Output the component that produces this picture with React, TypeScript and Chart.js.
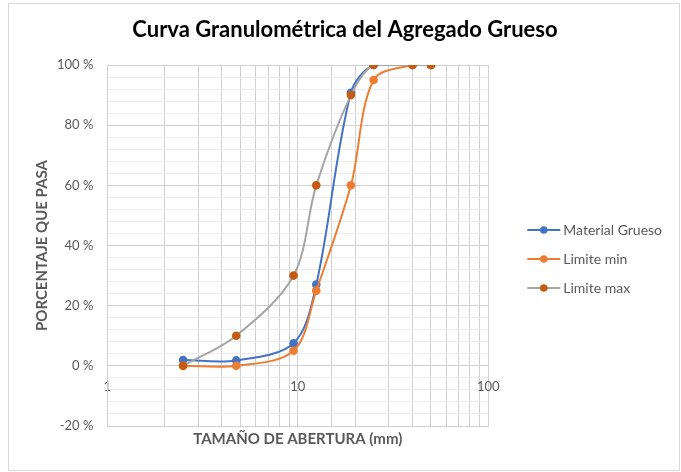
import React, { useEffect, useRef } from "react";
import { Chart, registerables } from "chart.js";

Chart.register(...registerables);

const sizes = [2.5, 4.75, 9.5, 12.5, 19, 25, 40, 50];
const materialGrueso = [1.9, 1.8, 7.5, 27, 90.8, 100, 100, 100];
const limiteMin = [0, 0, 5, 25, 60, 95, 100, 100];
const limiteMax = [0, 10, 30, 60, 90, 100, 100, 100];
const seriesNames = ["Material Grueso", "Limite min", "Limite max"];
const xLabelTicks = [1, 10, 100];
const chartTitle = "Curva Granulométrica del Agregado Grueso";

const FONT = "Lato";
const TEXT = "#595959";
const GRID_MAJOR = "#d0d0d0";
const GRID_MINOR = "#ececec";

const legendColors = [
  { line: "#4472C4", point: "#4472C4" },
  { line: "#ED7D31", point: "#ED7D31" },
  { line: "#A5A5A5", point: "#C55A11" },
];

const decorations = {
  id: "decorations",
  afterDraw(chart: any) {
    const { ctx, chartArea } = chart;
    ctx.save();
    // title
    ctx.fillStyle = "#000000";
    ctx.font = `bold 22px ${FONT}`;
    ctx.textAlign = "center";
    ctx.textBaseline = "middle";
    ctx.fillText(chartTitle, chart.width / 2 + 1, 26);
    // legend
    const x0 = chartArea.right + 39;
    const x1 = chartArea.right + 72;
    const baseY = chartArea.top + 165;
    seriesNames.forEach((name, i) => {
      const y = baseY + i * 29;
      ctx.strokeStyle = legendColors[i].line;
      ctx.lineWidth = 2;
      ctx.beginPath();
      ctx.moveTo(x0, y);
      ctx.lineTo(x1, y);
      ctx.stroke();
      ctx.fillStyle = legendColors[i].point;
      ctx.beginPath();
      ctx.arc((x0 + x1) / 2, y, 3.8, 0, Math.PI * 2);
      ctx.fill();
      ctx.fillStyle = TEXT;
      ctx.font = `14px ${FONT}`;
      ctx.textBaseline = "middle";
      ctx.textAlign = "left";
      ctx.fillText(name, x1 + 3, y);
    });
    ctx.restore();
  },
};

function toPoints(vals: number[]) {
  return sizes.map((s, i) => ({ x: s, y: vals[i] }));
}

export default function App() {
  const ref = useRef<HTMLCanvasElement | null>(null);
  useEffect(() => {
    if (!ref.current) return;
    const mk = (label: string, data: number[], line: string, point: string, order: number) => ({
      label,
      data: toPoints(data),
      borderColor: line,
      backgroundColor: point,
      pointBackgroundColor: point,
      pointBorderColor: point,
      pointRadius: 4.3,
      pointBorderWidth: 0,
      borderWidth: 2,
      tension: 0.33,
      order,
      xAxisID: "x",
      yAxisID: "y",
    });
    const chart = new Chart(ref.current, {
      type: "line",
      data: {
        datasets: [
          mk(seriesNames[0], materialGrueso, "#4472C4", "#4472C4", 2),
          mk(seriesNames[1], limiteMin, "#ED7D31", "#ED7D31", 1),
          mk(seriesNames[2], limiteMax, "#A5A5A5", "#C55A11", 0),
        ],
      },
      options: {
        animation: false,
        responsive: false,
        maintainAspectRatio: false,
        layout: { padding: { left: 0, right: 190.7, top: 61, bottom: 0 } },
        plugins: {
          legend: { display: false },
          tooltip: { enabled: false },
          title: { display: false },
        },
        scales: {
          x: {
            type: "logarithmic",
            position: "bottom",
            min: 1,
            max: 100,
            grid: { color: GRID_MAJOR, drawTicks: false },
            border: { display: true, color: GRID_MAJOR },
            ticks: { display: false },
            title: {
              display: true,
              text: "TAMAÑO DE ABERTURA (mm)",
              color: TEXT,
              font: { family: FONT, size: 15, weight: "bold" },
              padding: { top: 0, bottom: 22 },
            },
            afterFit(scale: any) {
              scale.height = 44;
            },
          },
          x2: {
            type: "logarithmic",
            position: { y: 0 } as any,
            min: 1,
            max: 100,
            grid: { display: false, drawTicks: false },
            border: { display: false },
            ticks: {
              autoSkip: false,
              maxRotation: 0,
              padding: 13,
              color: TEXT,
              font: { family: FONT, size: 13 },
              callback: (v: any) => (xLabelTicks.includes(Number(v)) ? String(v) : ""),
            },
          },
          y: {
            type: "linear",
            min: -20,
            max: 100,
            grid: {
              drawTicks: false,
              color: (c: any) => (Math.round(c.tick.value) % 20 === 0 ? GRID_MAJOR : GRID_MINOR),
            },
            border: { display: true, color: GRID_MAJOR },
            ticks: {
              stepSize: 4,
              autoSkip: false,
              padding: 14,
              color: TEXT,
              font: { family: FONT, size: 13 },
              callback: (v: any) => {
                const r = Math.round(Number(v));
                return r % 20 === 0 ? `${r} %` : "";
              },
            },
            title: {
              display: true,
              text: "PORCENTAJE QUE PASA",
              color: TEXT,
              font: { family: FONT, size: 15, weight: "bold" },
              padding: { top: 24, bottom: 0 },
            },
            afterFit(scale: any) {
              scale.width = 98.3;
            },
          },
        },
      },
      plugins: [decorations],
    });
    return () => chart.destroy();
  }, []);

  return (
    <div
      style={{
        position: "absolute",
        left: 8,
        top: 3,
        width: 672,
        height: 468,
        border: "1px solid #d9d9d9",
        boxSizing: "border-box",
        background: "#fff",
      }}
    >
      <canvas ref={ref} width={670} height={466} style={{ display: "block", width: 670, height: 466 }} />
    </div>
  );
}
